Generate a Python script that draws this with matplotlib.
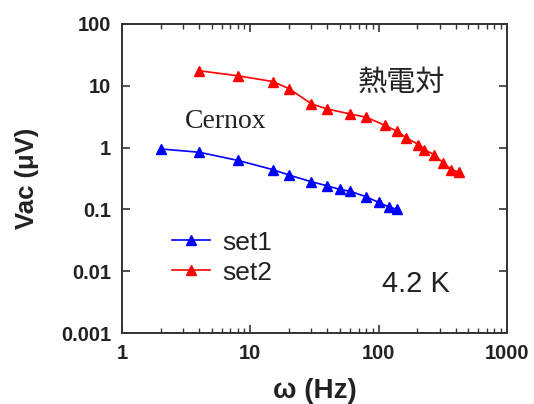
import matplotlib
matplotlib.use("Agg")
import matplotlib.pyplot as plt
from matplotlib.ticker import LogLocator, FixedLocator, NullFormatter

# Data
freq_set1 = [2, 4, 8, 15, 20, 30, 40, 50, 60, 80, 100, 120, 140]
vac_set1 = [0.95, 0.84, 0.62, 0.44, 0.36, 0.28, 0.24, 0.21, 0.197, 0.16, 0.13, 0.11, 0.10]
freq_set2 = [4, 8, 15, 20, 30, 40, 60, 80, 112, 140, 165, 205, 228, 270, 318, 370, 425]
vac_set2 = [17.5, 14.5, 11.7, 9.0, 5.1, 4.2, 3.5, 3.1, 2.3, 1.83, 1.43, 1.12, 0.93, 0.77, 0.57, 0.44, 0.40]

xticks = [1, 10, 100, 1000]
xticklabels = ["1", "10", "100", "1000"]
yticks = [0.001, 0.01, 0.1, 1, 10, 100]
yticklabels = ["0.001", "0.01", "0.1", "1", "10", "100"]

plt.rcParams['font.family'] = ['Liberation Sans', 'DejaVu Sans']

fig = plt.figure(figsize=(5.34, 4.04), dpi=100)
ax = fig.add_axes([0.2285, 0.1757, 0.7205, 0.765])

ax.plot(freq_set1, vac_set1, color='#0000ff', marker='^', markersize=7.5, linewidth=1.2, label='set1')
ax.plot(freq_set2, vac_set2, color='#ff0000', marker='^', markersize=7.5, linewidth=1.2, label='set2')

ax.set_xscale('log')
ax.set_yscale('log')
ax.set_xlim(1, 1000)
ax.set_ylim(0.001, 100)

ax.xaxis.set_major_locator(FixedLocator(xticks))
ax.set_xticklabels(xticklabels, fontsize=14.5, fontweight='bold')
ax.xaxis.set_minor_locator(LogLocator(base=10, subs=range(2, 10)))
ax.xaxis.set_minor_formatter(NullFormatter())
ax.yaxis.set_major_locator(FixedLocator(yticks))
ax.set_yticklabels(yticklabels, fontsize=14.5, fontweight='bold')
ax.yaxis.set_minor_locator(FixedLocator([]))

ax.tick_params(which='major', direction='in', length=6, width=1.2, top=True, right=True,
               colors='#333333', labelcolor='#222222', pad=8)
ax.tick_params(which='minor', direction='in', length=3.5, width=1.0, top=True, right=True, colors='#333333')
for s in ax.spines.values():
    s.set_linewidth(1.4)
    s.set_color('#333333')

ax.set_xlabel('ω (Hz)', fontsize=20, fontweight='bold', color='#222222', labelpad=11)
ax.set_ylabel('Vac (μV)', fontsize=18.5, fontweight='bold', color='#222222', labelpad=16)

ax.text(0.164, 0.683, 'Cernox', transform=ax.transAxes, fontsize=20,
        family=['Liberation Serif', 'DejaVu Serif'], color='#222222', va='center', ha='left')
ax.text(0.613, 0.81, '熱電対', transform=ax.transAxes, fontsize=21,
        family=['Noto Sans CJK JP', 'DejaVu Sans'], color='#222222', va='center', ha='left')
ax.text(0.675, 0.159, '4.2 K', transform=ax.transAxes, fontsize=21,
        color='#222222', va='center', ha='left')

leg = ax.legend(loc='center left', bbox_to_anchor=(0.13, 0.244), frameon=False, fontsize=19,
                handlelength=1.45, handletextpad=0.45, labelspacing=0.22, borderpad=0.0,
                borderaxespad=0.0)
for t in leg.get_texts():
    t.set_color('#222222')

fig.savefig('out.png', dpi=100)
